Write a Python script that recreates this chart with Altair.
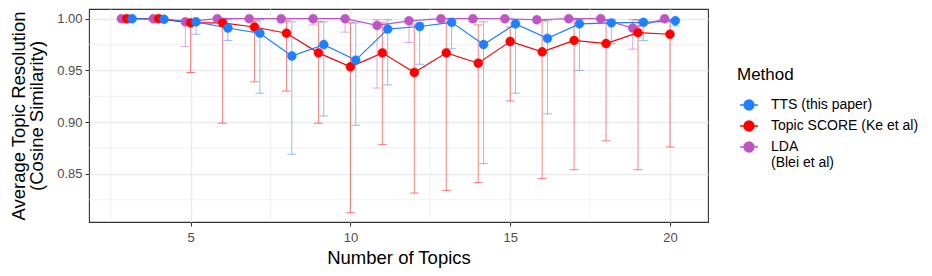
import altair as alt
import pandas as pd

methods = ["TTS (this paper)", "Topic SCORE (Ke et al)", "LDA (Blei et al)"]
colors = ["#1E80FF", "#FF0000", "#BE55C5"]
topics = list(range(3, 21))

tts_mean = [1.000, 0.9995, 0.997, 0.991, 0.986, 0.964, 0.975, 0.960, 0.990, 0.9925, 0.9965, 0.975, 0.995, 0.981, 0.995, 0.996, 0.9965, 0.998]
tts_low = [0.999, 0.999, 0.985, 0.979, 0.928, 0.869, 0.906, 0.897, 0.936, 0.956, 0.971, 0.860, 0.928, 0.908, 0.950, 0.976, 0.979, 0.993]
tts_high = [1.000, 1.000, 0.999, 0.999, 0.999, 0.997, 0.997, 0.996, 0.999, 0.996, 0.999, 0.997, 0.999, 0.998, 0.999, 0.999, 0.999, 1.000]

score_mean = [1.000, 1.000, 0.996, 0.996, 0.992, 0.986, 0.967, 0.9535, 0.967, 0.948, 0.967, 0.957, 0.978, 0.968, 0.979, 0.976, 0.9865, 0.985]
score_low = [0.999, 0.999, 0.948, 0.899, 0.939, 0.930, 0.899, 0.8125, 0.8785, 0.8315, 0.834, 0.8416, 0.9205, 0.8455, 0.854, 0.882, 0.854, 0.876]
score_high = [1.000, 1.000, 0.999, 0.999, 0.998, 0.998, 0.997, 0.996, 0.996, 0.994, 0.997, 0.994, 0.992, 0.998, 0.999, 0.999, 0.999, 0.999]

lda_mean = [1.000, 1.000, 0.997, 1.000, 1.000, 1.000, 1.000, 1.000, 0.9935, 0.998, 1.000, 1.000, 1.000, 0.999, 1.000, 1.000, 0.991, 1.000]
lda_low = [0.9995, 0.9995, 0.973, 0.999, 0.999, 0.996, 0.994, 0.987, 0.933, 0.977, 0.999, 0.997, 0.999, 0.997, 0.999, 0.998, 0.9706, 0.999]
lda_high = [1.000, 1.000, 0.999, 1.000, 1.000, 1.000, 1.000, 1.000, 0.999, 1.000, 1.000, 1.000, 1.000, 1.000, 1.000, 1.000, 0.999, 1.000]

x_ticks = [5, 10, 15, 20]
y_ticks = [0.85, 0.90, 0.95, 1.00]
x_minor = [2.5, 7.5, 12.5, 17.5]
y_minor = [0.825, 0.875, 0.925, 0.975]

# draw order: LDA first, then Topic SCORE, then TTS on top
series = [
    (methods[2], lda_mean, lda_low, lda_high),
    (methods[1], score_mean, score_low, score_high),
    (methods[0], tts_mean, tts_low, tts_high),
]
rows = []
for name, m, lo, hi in series:
    for k, a, b, c in zip(topics, m, lo, hi):
        rows.append({"method": name, "topics": k, "mean": a, "low": b, "high": c})
df = pd.DataFrame(rows)

FONT = "Liberation Sans"
xscale = alt.Scale(domain=[1.82, 21.19], nice=False, zero=False)
yscale = alt.Scale(domain=[0.8035, 1.0094], nice=False, zero=False)
xaxis = alt.Axis(values=x_ticks, title="Number of Topics", titleBaseline="alphabetic",
                 titleY=41, labelPadding=5)
yaxis = alt.Axis(values=y_ticks, format=".2f",
                 title=["Average Topic Resolution", "(Cosine Similarity)"],
                 titleX=-65, titleY=106.5, titleBaseline="alphabetic", titleLineHeight=18,
                 labelPadding=3)


def X(field):
    return alt.X(field, type="quantitative", scale=xscale, axis=xaxis)


def Y(field):
    return alt.Y(field, type="quantitative", scale=yscale, axis=yaxis)


cscale = alt.Scale(domain=methods, range=colors)
legend_path = "M-1,0L1,0M0.556,0A0.556,0.556,0,1,1,-0.556,0A0.556,0.556,0,1,1,0.556,0Z"


def make_legend():
    return alt.Legend(
        title="Method", orient="none", legendX=648, legendY=58, padding=0,
        symbolType=legend_path, symbolSize=324, symbolStrokeWidth=1.3, symbolOpacity=1,
        symbolOffset=2, labelOffset=12, labelFontSize=14, labelColor="black", labelFont=FONT,
        titleFontSize=17, titleFont=FONT, titleFontWeight="normal", titleColor="black",
        titlePadding=11, rowPadding=3,
        labelExpr="datum.label == 'LDA (Blei et al)' ? ['LDA', '(Blei et al)'] : datum.label",
    )


def S():
    return alt.Stroke("method:N", scale=cscale, legend=make_legend())


base = alt.Chart(df).transform_calculate(
    xd="datum.topics + (datum.method === 'TTS (this paper)' ? 0.1667 : (datum.method === 'LDA (Blei et al)' ? -0.1667 : 0))"
)

minor_v = alt.Chart(pd.DataFrame({"v": x_minor})).mark_rule(color="#EBEBEB", strokeWidth=0.7).encode(x=X("v"))
minor_h = alt.Chart(pd.DataFrame({"v": y_minor})).mark_rule(color="#EBEBEB", strokeWidth=0.7).encode(y=Y("v"))

bars = base.mark_rule(strokeWidth=1, opacity=0.5).encode(x=X("xd"), y=Y("low"), y2="high:Q", stroke=S())
cap_lo = base.mark_tick(orient="horizontal", size=9, thickness=1, opacity=0.5).encode(
    x=X("xd"), y=Y("low"), color=alt.Color("method:N", scale=cscale, legend=None))
cap_hi = base.mark_tick(orient="horizontal", size=9, thickness=1, opacity=0.5).encode(
    x=X("xd"), y=Y("high"), color=alt.Color("method:N", scale=cscale, legend=None))
lines = base.mark_line(strokeWidth=1.2).encode(x=X("xd"), y=Y("mean"), stroke=S(), detail="method:N")
points = base.mark_point(size=80, opacity=1, filled=False, strokeWidth=0.5).encode(
    x=X("xd"), y=Y("mean"),
    fill=alt.Fill("method:N", scale=cscale, legend=make_legend()),
    stroke=S(),
)

chart = alt.layer(minor_v, minor_h, bars, cap_lo, cap_hi, lines, points).properties(
    width=619, height=213,
    autosize="none",
    padding={"left": 81, "top": 1, "right": 216, "bottom": 46},
    background="white",
).configure_view(
    stroke="#333333", strokeWidth=1.1, fill="white"
).configure_axis(
    domain=False, tickColor="#333333", tickSize=4, tickWidth=1.1,
    labelColor="#4D4D4D", labelFontSize=13, labelFont=FONT,
    titleFontSize=18.5, titleFont=FONT, titleFontWeight="normal", titleColor="black",
    gridColor="#EBEBEB", gridWidth=1.4,
)

chart.save("out.html", embed_options={"renderer": "svg", "actions": False})
